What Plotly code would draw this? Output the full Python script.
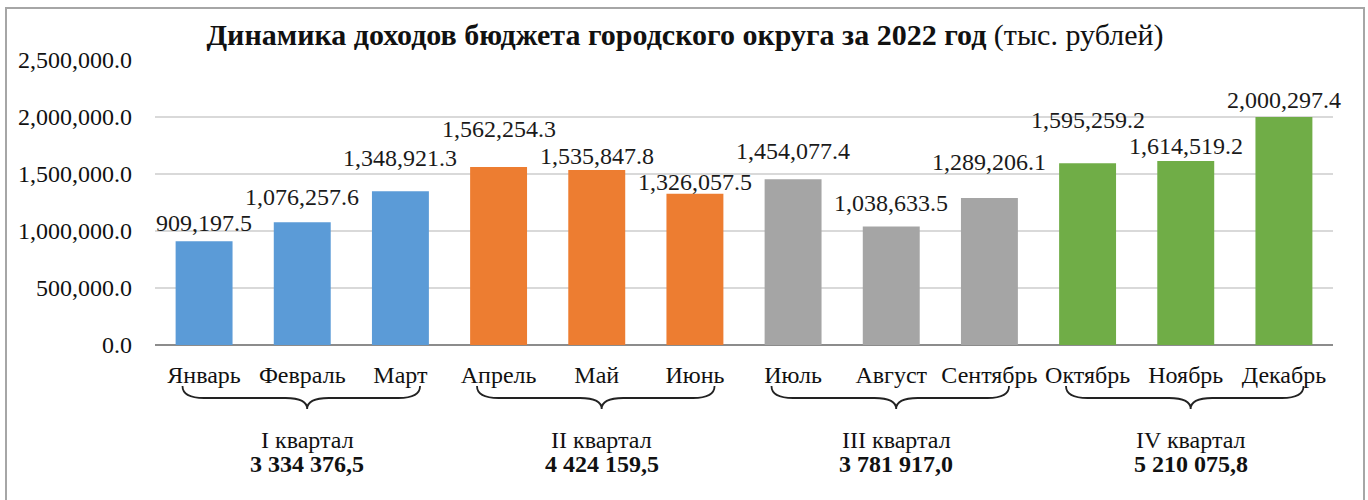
import plotly.graph_objects as go

# ---------------- data ----------------
months = ["Январь", "Февраль", "Март", "Апрель", "Май", "Июнь",
          "Июль", "Август", "Сентябрь", "Октябрь", "Ноябрь", "Декабрь"]
revenue = [909197.5, 1076257.6, 1348921.3, 1562254.3, 1535847.8, 1326057.5,
           1454077.4, 1038633.5, 1289206.1, 1595259.2, 1614519.2, 2000297.4]
quarter_names = ["I квартал", "II квартал", "III квартал", "IV квартал"]
quarter_totals = ["3 334 376,5", "4 424 159,5", "3 781 917,0", "5 210 075,8"]
y_ticks = [0, 500000, 1000000, 1500000, 2000000, 2500000]

# ---------------- styles ----------------
quarter_colors = ["#5b9bd7", "#ed7d31", "#a5a5a5", "#70ad47"]
bar_colors = [quarter_colors[i // 3] for i in range(len(months))]
label_gap_px = [9, 16, 24, 29, 5, 3, 19, 15, 27, 34, 6, 8]  # label lift above bar
FONT = "Liberation Serif"

def fmt(v):
    return f"{v:,.1f}"

x_idx = list(range(len(months)))

fig = go.Figure()
fig.add_trace(go.Bar(
    x=x_idx, y=revenue, width=0.58,
    marker=dict(color=bar_colors, line=dict(width=0)),
    hoverinfo="skip", showlegend=False,
))

# value labels
for i, v in enumerate(revenue):
    fig.add_annotation(x=i, y=v, xref="x", yref="y", text=fmt(v),
                       showarrow=False, yanchor="bottom", xanchor="center",
                       yshift=label_gap_px[i] - 6,
                       font=dict(family=FONT, size=24, color="#1a1a1a"))

# braces + quarter labels (plot area spans page px x 155..1333, y 60..345)
def yp(px):
    return (345 - px) / 285.0

def xp(px):
    return (px - 155) / 1178.0

shapes = []
for q in range(4):
    xm = 3 * q + 1.05
    x0, x1 = xm - 1.27, xm + 1.15
    r = 0.22
    yt, ym, yb = yp(386), yp(398), yp(409)
    path = (f"M {x0},{yt} Q {x0},{ym} {x0 + r},{ym} L {xm - r},{ym} "
            f"Q {xm},{ym} {xm},{yb} Q {xm},{ym} {xm + r},{ym} "
            f"L {x1 - r},{ym} Q {x1},{ym} {x1},{yt}")
    shapes.append(dict(type="path", path=path, xref="x", yref="paper",
                       line=dict(color="#222222", width=1.8)))
    fig.add_annotation(x=xm, y=yp(440), xref="x", yref="paper",
                       yanchor="middle", xanchor="center",
                       text=quarter_names[q], showarrow=False,
                       font=dict(family=FONT, size=24, color="#111111"))
    fig.add_annotation(x=xm, y=yp(464), xref="x", yref="paper",
                       yanchor="middle", xanchor="center",
                       text=f"<b>{quarter_totals[q]}</b>", showarrow=False,
                       font=dict(family=FONT, size=24, color="#111111"))

# outer frame
shapes.append(dict(type="rect", xref="paper", yref="paper",
                   x0=xp(6), x1=xp(1364), y0=yp(520), y1=yp(8),
                   line=dict(color="#a6a6a6", width=2), fillcolor="rgba(0,0,0,0)",
                   layer="below"))

fig.update_layout(
    width=1368, height=500,
    margin=dict(l=155, r=35, t=60, b=155),
    paper_bgcolor="white", plot_bgcolor="white",
    shapes=shapes,
    title=dict(
        text="<b>Динамика доходов бюджета городского округа за 2022 год</b> (тыс. рублей)",
        x=685 / 1368.0, xanchor="center", y=1 - 34 / 500.0, yanchor="middle",
        font=dict(family=FONT, size=30, color="#111111")),
)
fig.update_xaxes(
    range=[-0.5, 11.5], tickmode="array", tickvals=x_idx, ticktext=months,
    showgrid=False, zeroline=False, showline=False, ticks="",
    tickfont=dict(family=FONT, size=24, color="#111111"),
    ticklabelstandoff=13,
)
fig.update_yaxes(
    range=[0, 2500000], tickmode="array", tickvals=y_ticks,
    ticktext=[fmt(t) for t in y_ticks],
    showgrid=True, gridcolor="#d9d9d9", gridwidth=1.5,
    zeroline=True, zerolinecolor="#8c8c8c", zerolinewidth=2,
    showline=False, ticks="",
    tickfont=dict(family=FONT, size=24, color="#111111"),
    ticklabelstandoff=22,
)

fig.write_html("out.html", config={"displayModeBar": False},
               post_script="document.body.style.margin='0px';")
